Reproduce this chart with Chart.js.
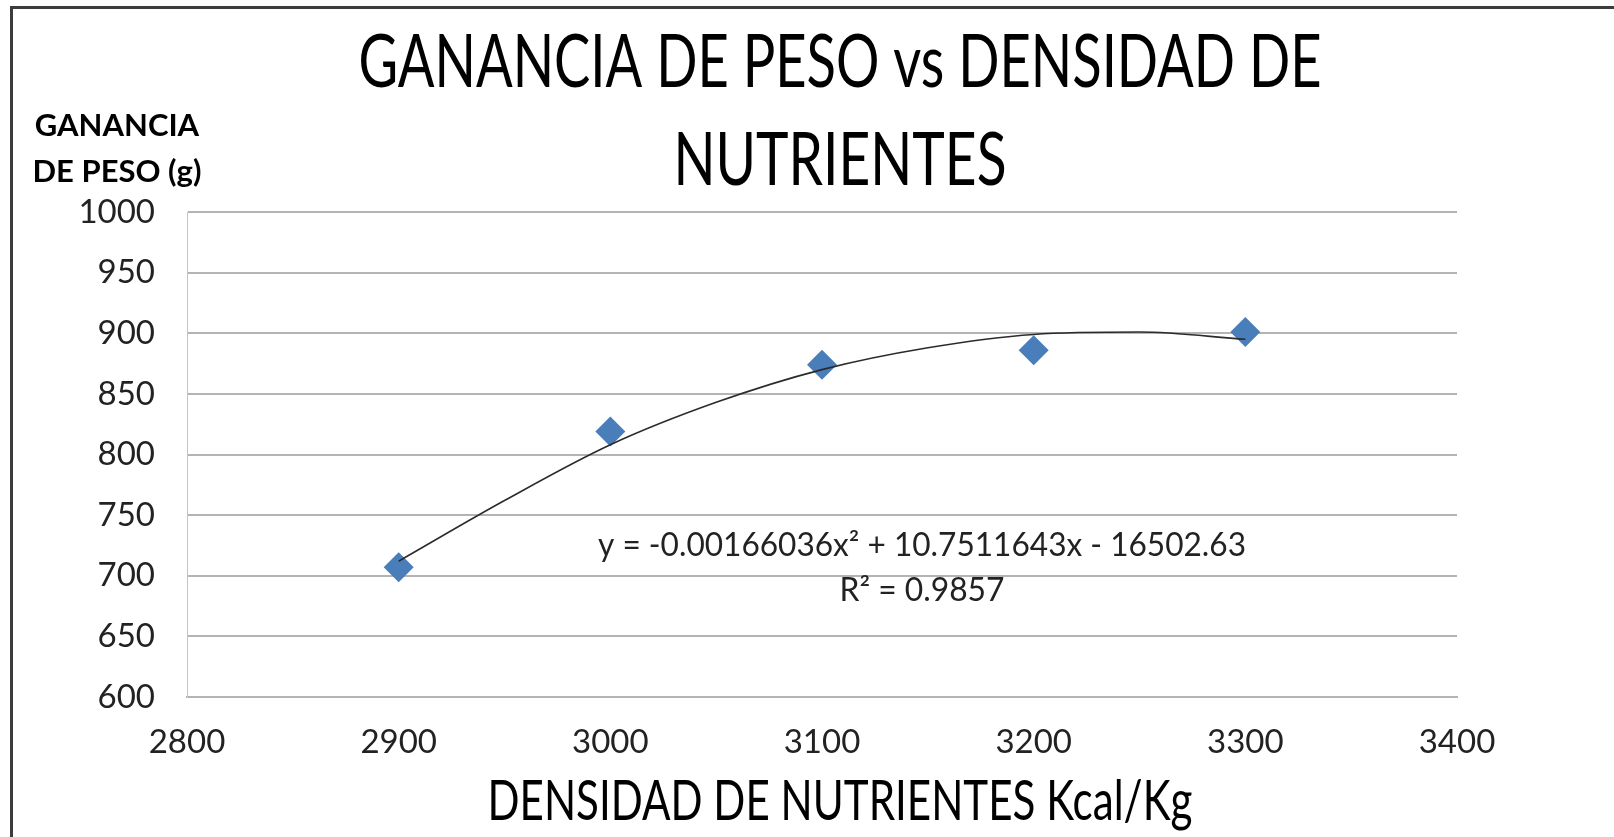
<!DOCTYPE html>
<html>
<head>
<meta charset="utf-8">
<script src="https://cdn.jsdelivr.net/npm/chart.js@4.4.1/dist/chart.umd.min.js"></script>
<style>
  html, body { margin: 0; padding: 0; background: #fff; overflow: hidden; }
  #marco {
    position: absolute; left: 10px; top: 6px; right: -10px; bottom: -10px;
    border-left: 3px solid #3c3c3c; border-top: 3px solid #3c3c3c;
  }
  #grafico { position: absolute; left: 0; top: 0; }
</style>
</head>
<body>
<div id="marco"></div>
<canvas id="grafico" width="1614" height="837"></canvas>
<script>
// ----- Datos -----
const densidad = [2900, 3000, 3100, 3200, 3300];
const ganancia = [707, 819, 874, 886, 901];

// linea de tendencia (polinomica)
const tendenciaX = [2900, 2950, 3000, 3050, 3100, 3150, 3200, 3250, 3300];
const tendenciaY = [712, 762, 808, 843, 870, 888, 899, 901, 895];

const ejeX = [2800, 2900, 3000, 3100, 3200, 3300, 3400];
const ejeY = [600, 650, 700, 750, 800, 850, 900, 950, 1000];

const tituloLineas = ["GANANCIA DE PESO vs DENSIDAD DE", "NUTRIENTES"];
const tituloEjeY = ["GANANCIA", "DE PESO (g)"];
const tituloEjeX = "DENSIDAD DE NUTRIENTES Kcal/Kg";
const ecuacion = ["y = -0.00166036x\u00B2 + 10.7511643x - 16502.63", "R\u00B2 = 0.9857"];

const FUENTE = "Lato, 'Open Sans', sans-serif";

// texto comprimido horizontalmente para ajustarse a un ancho
function textoAjustado(ctx, txt, cx, y, font, ancho) {
  ctx.save();
  ctx.font = font;
  const w = ctx.measureText(txt).width;
  const sx = Math.min(1, ancho / w);
  ctx.translate(cx, y);
  ctx.scale(sx, 1);
  ctx.textAlign = "center";
  ctx.textBaseline = "alphabetic";
  ctx.fillText(txt, 0, 0);
  ctx.restore();
}

const textos = {
  id: "textos",
  afterDraw(chart) {
    const ctx = chart.ctx;
    ctx.fillStyle = "#000";
    // titulo
    textoAjustado(ctx, tituloLineas[0], 840, 87, "74px " + FUENTE, 963);
    textoAjustado(ctx, tituloLineas[1], 840, 185, "74px " + FUENTE, 333);
    // eje Y
    textoAjustado(ctx, tituloEjeY[0], 117, 136, "bold 31px " + FUENTE, 166);
    textoAjustado(ctx, tituloEjeY[1], 117, 182, "bold 31px " + FUENTE, 176);
    // eje X
    textoAjustado(ctx, tituloEjeX, 840, 820, "57px " + FUENTE, 705);
    // ecuacion de la tendencia
    ctx.fillStyle = "#222";
    textoAjustado(ctx, ecuacion[0], 922, 556, "32px " + FUENTE, 648);
    textoAjustado(ctx, ecuacion[1], 922, 601, "32px " + FUENTE, 165);
  }
};

const ctx = document.getElementById("grafico");

new Chart(ctx, {
  type: "scatter",
  data: {
    datasets: [
      {
        label: "Polinómica",
        data: tendenciaX.map((x, i) => ({ x, y: tendenciaY[i] })),
        showLine: true,
        borderColor: "#2b2b2b",
        borderWidth: 1.6,
        pointRadius: 0,
        cubicInterpolationMode: "monotone",
        fill: false
      },
      {
        label: "Ganancia de peso",
        data: densidad.map((x, i) => ({ x, y: ganancia[i] })),
        pointStyle: "rectRot",
        pointRadius: 15,
        backgroundColor: "#4a7ebb",
        borderColor: "#4a7ebb",
        borderWidth: 0
      }
    ]
  },
  options: {
    responsive: false,
    animation: false,
    layout: { padding: { top: 212, right: 157, left: 0, bottom: 0 } },
    plugins: {
      legend: { display: false },
      title: { display: false },
      tooltip: { enabled: false }
    },
    scales: {
      x: {
        type: "linear",
        min: ejeX[0],
        max: ejeX[ejeX.length - 1],
        afterBuildTicks: (s) => { s.ticks = ejeX.map(v => ({ value: v })); },
        afterFit: (s) => { s.height = 140; },
        grid: { display: false, drawTicks: false },
        border: { display: true, color: "#b4b4b4", width: 2 },
        ticks: {
          padding: 26, color: "#222", font: { family: FUENTE, size: 33 }, maxRotation: 0,
          callback: (v) => String(v)
        }
      },
      y: {
        type: "linear",
        min: ejeY[0],
        max: ejeY[ejeY.length - 1],
        afterBuildTicks: (s) => { s.ticks = ejeY.map(v => ({ value: v })); },
        afterFit: (s) => { s.width = 187; },
        grid: { color: "#b4b4b4", lineWidth: 2, drawTicks: false },
        border: { display: true, color: "#c4c4c4", width: 1 },
        ticks: {
          padding: 32, color: "#222", font: { family: FUENTE, size: 33 },
          callback: (v) => String(v)
        }
      }
    }
  },
  plugins: [textos]
});
</script>
</body>
</html>
